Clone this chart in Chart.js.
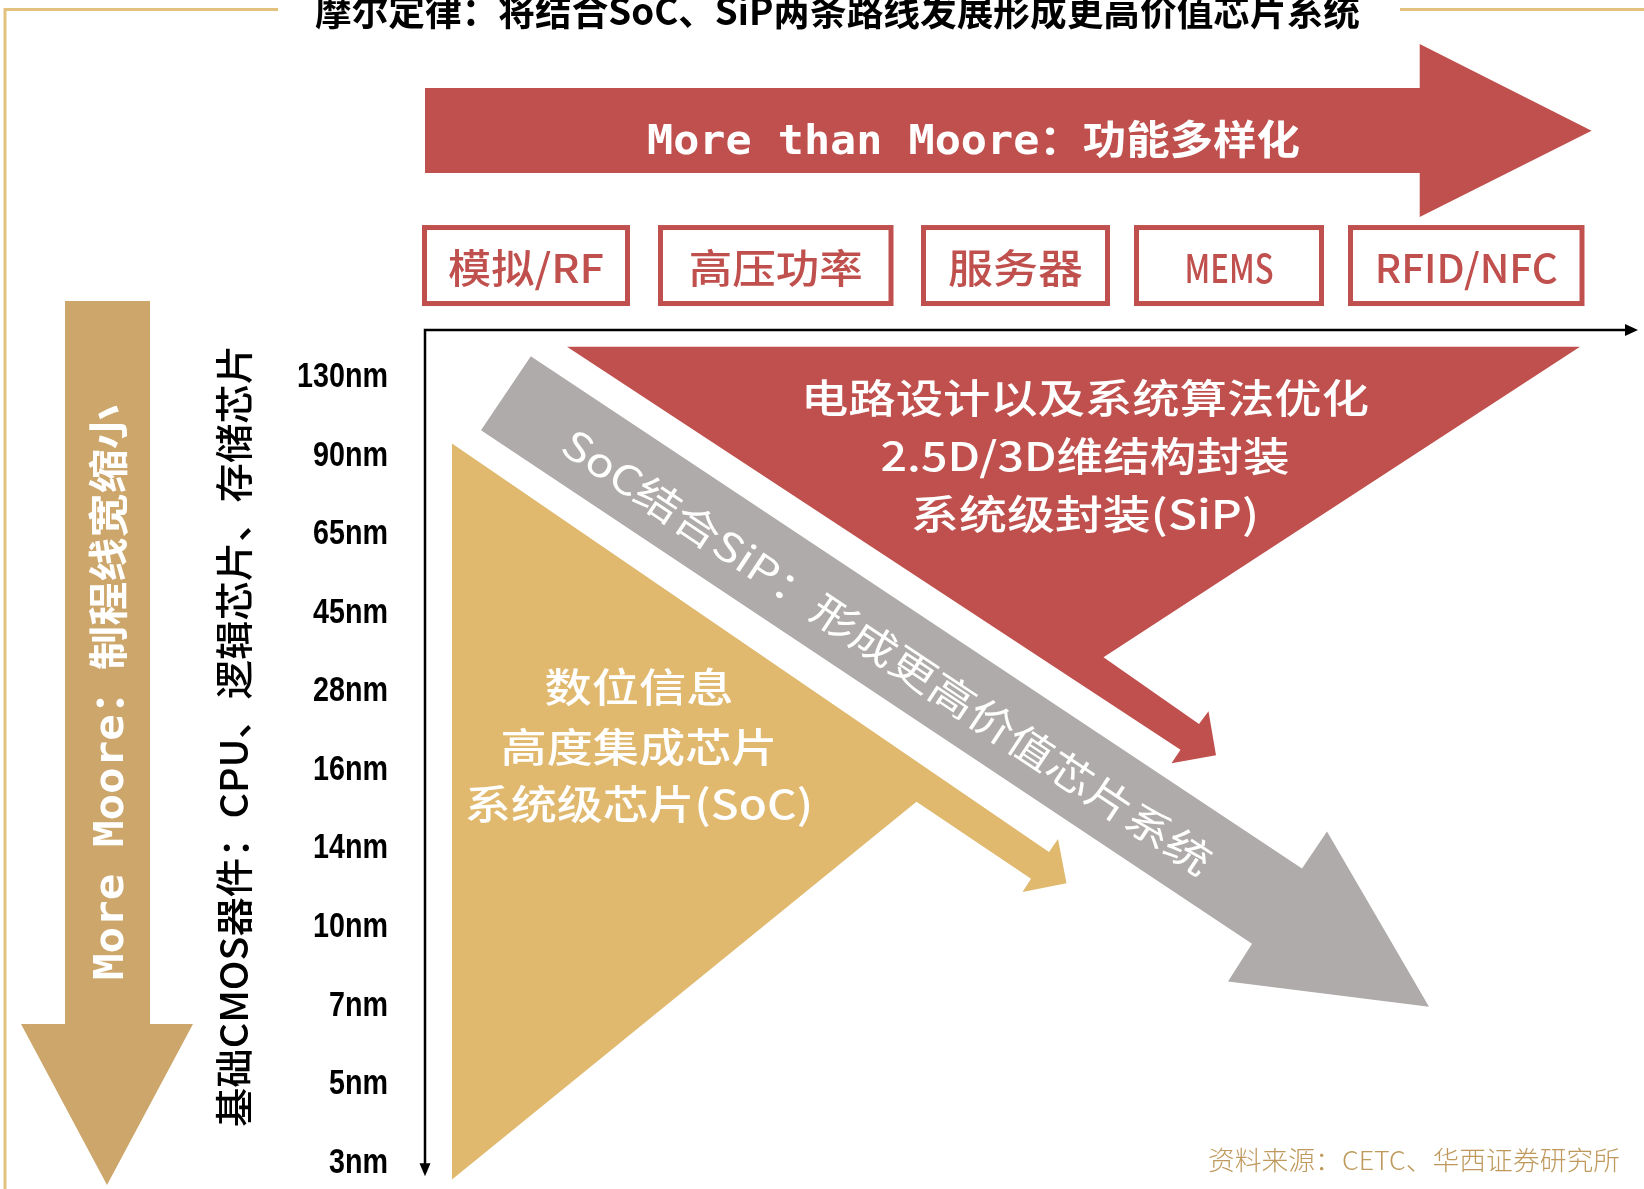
<!DOCTYPE html>
<html>
<head>
<meta charset="utf-8">
<script src="https://cdn.jsdelivr.net/npm/chart.js@4.4.1/dist/chart.umd.min.js"></script>
<style>
  html, body { margin: 0; padding: 0; background: #fff; }
  #wrap { width: 1644px; height: 1189px; position: relative; }
</style>
</head>
<body>
<div id="wrap"><canvas id="moore"></canvas></div>
<script>
// process nodes down the vertical axis (y = node index)
const nodeLabels = ['130nm', '90nm', '65nm', '45nm', '28nm', '16nm', '14nm', '10nm', '7nm', '5nm', '3nm'];
// application areas along the horizontal axis
const stageLabels = ['模拟/RF', '高压功率', '服务器', 'MEMS', 'RFID/NFC'];

const titleText = '摩尔定律：将结合SoC、SiP两条路线发展形成更高价值芯片系统';
const moreThanMoore = 'More than Moore：功能多样化';
const moreMoore = 'More Moore：制程线宽缩小';
const cmosText = '基础CMOS器件：CPU、逻辑芯片、存储芯片';
const sipLines = ['电路设计以及系统算法优化', '2.5D/3D维结构封装', '系统级封装(SiP)'];
const socLines = ['数位信息', '高度集成芯片', '系统级芯片(SoC)'];
const mergeText = 'SoC结合SiP：形成更高价值芯片系统';
const sourceText = '资料来源：CETC、华西证券研究所';

// outlines in axis units (x: stage position, y: node index)
const sipShape = [[14.2, -0.39], [115.5, -0.39], [67.85, 3.56], [77.4, 4.41], [78.35, 4.25],
  [79.1, 4.81], [74.65, 4.91], [75.55, 4.74]];
const mergeShape = [[10.58, -0.27], [87.7, 6.25], [90.2, 5.78], [100.4, 8.01], [80.3, 7.69],
  [82.7, 7.21], [5.6, 0.67]];
const socShape = [[2.7, 0.84], [62.4, 6.04], [63.3, 5.875], [64.15, 6.44], [59.75, 6.55],
  [60.6, 6.38], [49.15, 5.40], [2.7, 10.21]];
const topArrow = [[0, -3.685], [99.47, -3.685], [99.47, -4.246], [116.66, -3.14], [99.47, -2.044],
  [99.47, -2.603], [0, -2.603]];
const leftArrow = [[-36, -0.974], [-27.5, -0.974], [-27.5, 8.23], [-23.2, 8.23], [-31.8, 10.28],
  [-40.4, 8.23], [-36, 8.23]];

// stage boxes: x extents, shared y extent
const boxSpans = [[-0.3, 20.5], [23.3, 46.85], [49.6, 68.5], [70.9, 89.9], [92.3, 115.95]];
const boxTop = -1.941, boxBottom = -0.91;
const boxTextWidths = [156, 174, 135, 89, 183];

const RED = '#c0504d', GREY = '#aeabaa', SOC_GOLD = '#e0b96f', TAN = '#cca66a', FRAME = '#e3c17f';
const CJK = "'Noto Sans CJK SC'";
const MONO = "'DejaVu Sans Mono', 'Noto Sans CJK SC'";
const TICK_FONT = "bold 35px 'Liberation Sans'";

function poly(points, color) {
  return {
    data: points.map(([x, y]) => ({ x, y })),
    showLine: true,
    fill: 'shape',
    backgroundColor: color,
    borderColor: 'rgba(0,0,0,0)',
    borderWidth: 0,
    pointRadius: 0,
    tension: 0
  };
}

// draws a string squeezed/stretched to a given width, optionally rotated
function fitText(ctx, str, cx, cy, width, font, color, angle, align) {
  ctx.save();
  ctx.font = font;
  ctx.fillStyle = color;
  ctx.textAlign = align || 'center';
  ctx.textBaseline = 'middle';
  const w = ctx.measureText(str).width;
  ctx.translate(cx, cy);
  if (angle) ctx.rotate(angle);
  ctx.scale(width / w, 1);
  ctx.fillText(str, 0, 0);
  ctx.restore();
}

const diagram = {
  id: 'diagram',
  afterDatasetsDraw(chart) {
    const ctx = chart.ctx;
    const X = v => chart.scales.x.getPixelForValue(v);
    const Y = v => chart.scales.y.getPixelForValue(v);
    const area = chart.chartArea;

    // page frame
    ctx.save();
    ctx.strokeStyle = FRAME;
    ctx.lineWidth = 3;
    ctx.beginPath();
    ctx.moveTo(area.left + 5, area.bottom);
    ctx.lineTo(area.left + 5, area.top + 9.5);
    ctx.lineTo(X(-14.7), area.top + 9.5);
    ctx.moveTo(X(97.5), area.top + 9.5);
    ctx.lineTo(area.right, area.top + 9.5);
    ctx.stroke();
    ctx.restore();

    fitText(ctx, titleText, X(41.25), Y(-4.672), 1045, `bold 38px ${CJK}`, '#000');
    fitText(ctx, moreThanMoore, X(54.85), Y(-2.972), 653, `bold 40px ${MONO}`, '#fff');

    // stage boxes
    ctx.save();
    ctx.strokeStyle = RED;
    ctx.lineWidth = 5;
    boxSpans.forEach(([a, b], i) => {
      const l = X(a), r = X(b), t = Y(boxTop), bt = Y(boxBottom);
      ctx.fillStyle = '#fff';
      ctx.fillRect(l, t, r - l, bt - t);
      ctx.strokeRect(l + 2.5, t + 2.5, r - l - 5, bt - t - 5);
      fitText(ctx, stageLabels[i], (l + r) / 2, Y(-1.394), boxTextWidths[i], `500 40px ${CJK}`, RED);
    });
    ctx.restore();

    // axes with arrow heads
    const ox = X(0), oy = Y(-0.605), xEnd = X(121.3), yEnd = Y(10.17);
    ctx.save();
    ctx.strokeStyle = '#000';
    ctx.fillStyle = '#000';
    ctx.lineWidth = 2.5;
    ctx.beginPath();
    ctx.moveTo(xEnd - 10, oy);
    ctx.lineTo(ox, oy);
    ctx.lineTo(ox, yEnd - 10);
    ctx.stroke();
    ctx.beginPath();
    ctx.moveTo(xEnd, oy);
    ctx.lineTo(xEnd - 13, oy - 6);
    ctx.lineTo(xEnd - 13, oy + 6);
    ctx.closePath();
    ctx.fill();
    ctx.beginPath();
    ctx.moveTo(ox, yEnd);
    ctx.lineTo(ox - 5.5, yEnd - 13);
    ctx.lineTo(ox + 5.5, yEnd - 13);
    ctx.closePath();
    ctx.fill();
    ctx.restore();

    // node tick labels, condensed to a common factor
    ctx.save();
    ctx.font = TICK_FONT;
    const sx = 91 / ctx.measureText(nodeLabels[0]).width;
    const widths = nodeLabels.map(l => ctx.measureText(l).width * sx);
    ctx.restore();
    nodeLabels.forEach((lab, i) => {
      fitText(ctx, lab, X(-3.7), Y(i), widths[i], TICK_FONT, '#000', 0, 'right');
    });

    // vertical captions
    fitText(ctx, moreMoore, X(-31.2), Y(4.01), 575, `bold 40px ${MONO}`, '#fff', -Math.PI / 2);
    fitText(ctx, cmosText, X(-19.1), Y(4.564), 782, `500 38px ${CJK}`, '#000', -Math.PI / 2);

    // text inside the SiP and SoC regions
    const sipY = [0.261, 0.999, 1.738], sipW = [568, 409, 348];
    sipLines.forEach((t, i) => fitText(ctx, t, X(66.0), Y(sipY[i]), sipW[i], `500 40px ${CJK}`, '#fff'));
    const socY = [3.94, 4.698, 5.43], socW = [189, 277, 348];
    socLines.forEach((t, i) => fitText(ctx, t, X(21.4), Y(socY[i]), socW[i], `500 40px ${CJK}`, '#fff'));

    // label running along the grey arrow
    const p0 = mergeShape[0], p1 = mergeShape[1];
    const ang = Math.atan2(Y(p1[1]) - Y(p0[1]), X(p1[0]) - X(p0[0]));
    fitText(ctx, mergeText, X(46.25), Y(3.491), 770, `40px ${CJK}`, '#fff', ang);

    fitText(ctx, sourceText, X(98.9), Y(9.962), 412, `300 26px ${CJK}`, '#bf995c');
  }
};

new Chart(document.getElementById('moore'), {
  type: 'scatter',
  data: {
    datasets: [
      poly(sipShape, RED),
      poly(mergeShape, GREY),
      poly(socShape, SOC_GOLD),
      poly(topArrow, RED),
      poly(leftArrow, TAN)
    ]
  },
  options: {
    responsive: true,
    maintainAspectRatio: false,
    animation: false,
    layout: { padding: 0 },
    plugins: {
      legend: { display: false },
      tooltip: { enabled: false }
    },
    scales: {
      x: { type: 'linear', display: false, min: -42.5, max: 121.9 },
      y: { type: 'linear', display: false, reverse: true, min: -4.806, max: 10.331 }
    }
  },
  plugins: [diagram]
});
</script>
</body>
</html>
